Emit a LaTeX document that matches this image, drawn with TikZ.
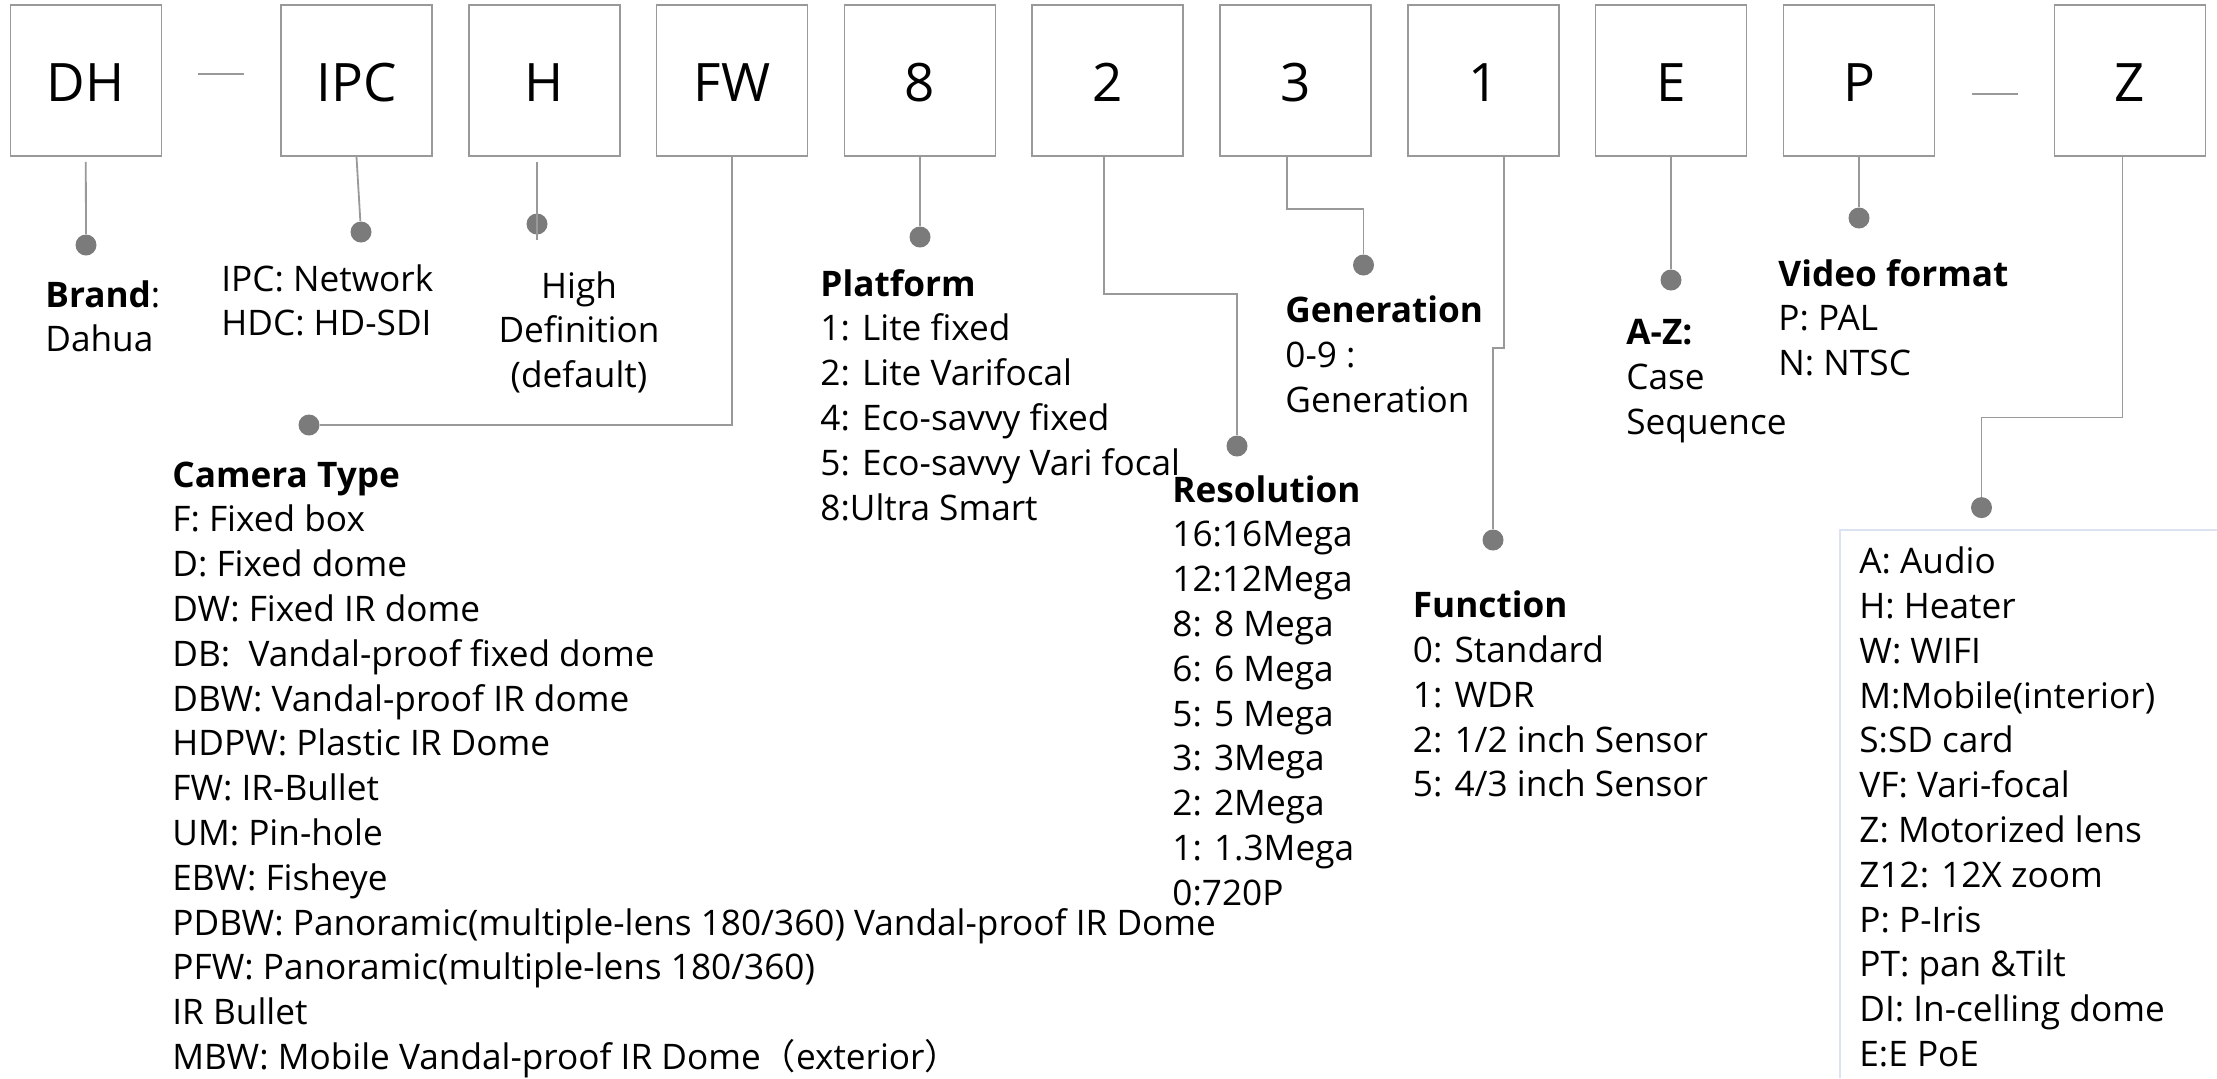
\documentclass[tikz,border=0pt]{standalone}
\usepackage{fontspec}
\setmainfont{Open Sans}
\newfontfamily\cjkfont{Noto Sans CJK SC}
\usetikzlibrary{calc}
\definecolor{linegray}{HTML}{999999}
\definecolor{dotgray}{HTML}{7B7B7B}
\definecolor{listblue}{HTML}{DAE3EF}
\newcommand{\blk}[2][l]{\begin{tabular}[t]{@{}#1@{}}#2\end{tabular}}
\begin{document}
\begin{tikzpicture}[x=0.5pt,y=-0.5pt,
  codebox/.style={draw=linegray,line width=0.8pt,minimum width=75.5pt,minimum height=75.5pt,inner sep=0pt,font=\fontsize{26.5}{30}\selectfont,text height=21.4pt,text depth=0pt},
  pin/.style={circle,fill=dotgray,inner sep=0pt,minimum size=10.5pt},
  conn/.style={draw=linegray,line width=0.9pt},
  info/.style={inner sep=0pt,anchor=base west,font=\fontsize{17.6}{22.4}\selectfont},
  ]
\useasboundingbox (0,0) rectangle (2217,1078);
\fill[white] (0,0) rectangle (2217,1078);

% code boxes
\node[codebox] (dh)  at (85.8,80.5)   {DH};
\node[codebox] (ipc) at (356.5,80.5)  {IPC};
\node[codebox] (h)   at (544.5,80.5)  {H};
\node[codebox] (fw)  at (732,80.5)    {FW};
\node[codebox] (b8)  at (920,80.5)    {8};
\node[codebox] (b2)  at (1107.6,80.5) {2};
\node[codebox] (b3)  at (1295.6,80.5) {3};
\node[codebox] (b1)  at (1483.3,80.5) {1};
\node[codebox] (be)  at (1671,80.5)   {E};
\node[codebox] (bp)  at (1859,80.5)   {P};
\node[codebox] (bz)  at (2130,80.5)   {Z};

% separators
\coordinate (s1a) at (198,74);  \coordinate (s1b) at (244,74);
\coordinate (s2a) at (1972,94); \coordinate (s2b) at (2018,94);
\draw[conn] (s1a) -- (s1b);
\draw[conn] (s2a) -- (s2b);

% pins
\node[pin] (d1)  at (86,245) {};
\node[pin] (d2)  at (361,232) {};
\node[pin] (d3)  at (537,224) {};
\node[pin] (d4)  at (309,425) {};
\node[pin] (d5)  at (920,237) {};
\node[pin] (d6)  at (1237,446) {};
\node[pin] (d7)  at (1363.5,265) {};
\node[pin] (d8)  at (1493,540) {};
\node[pin] (d9)  at (1671,280) {};
\node[pin] (d10) at (1859,218) {};
\node[pin] (d11) at (1981.5,507.6) {};

% bend points
\coordinate (c6)  at (1237,294.3);
\coordinate (c7)  at (1363.5,209);
\coordinate (c8)  at (1493,347.7);
\coordinate (c11) at (1981.5,417.5);

% connectors
\draw[conn] ([yshift=-2.5pt]dh.south) -- (d1);
\draw[conn] (ipc.south) -- (d2);
\draw[conn] ([yshift=-2.5pt]h.south -| d3) -- ([yshift=-8pt]d3.center);
\draw[conn] (fw.south) |- (d4);
\draw[conn] (b8.south) -- (d5);
\draw[conn] ([xshift=-2pt]b2.south) |- (c6) -- (d6);
\draw[conn] ([xshift=-4.15pt]b3.south) |- (c7) -- (d7);
\draw[conn] ([xshift=10.5pt]b1.south) |- (c8) -- (d8);
\draw[conn] (be.south) -- (d9);
\draw[conn] (bp.south) -- (d10);
\draw[conn] ([xshift=-3.8pt]bz.south) |- (c11) -- (d11);

% Z list frame
\coordinate (fa) at (1840,1078);
\coordinate (fb) at (1840,530);
\coordinate (fc) at (2217,530);
\draw[draw=listblue,line width=0.8pt] (fa) -- (fb) -- (fc);

% texts
\node[info] (tbrand) at (45,307) {\blk{\textbf{Brand}:\\Dahua}};
\node[info] (tipc) at (221,291) {\blk{IPC: Network\\HDC: HD-SDI}};
\node[info,anchor=base] (th) at (579,298) {\blk[c]{High\\Definition\\(default)}};
\node[info] (tcam) at (172,487) {\blk{\textbf{Camera Type}\\F: Fixed box\\D: Fixed dome\\DW: Fixed IR dome\\DB:\ \ Vandal-proof fixed dome\\DBW: Vandal-proof IR dome\\HDPW: Plastic IR Dome\\FW: IR-Bullet\\UM: Pin-hole\\EBW: Fisheye\\PDBW: Panoramic(multiple-lens 180/360) Vandal-proof IR Dome\\PFW: Panoramic(multiple-lens 180/360)\\IR Bullet\\MBW: Mobile Vandal-proof IR Dome{\cjkfont （}exterior{\cjkfont ）}}};
\node[info] (tplat) at (820,296) {\blk{\textbf{Platform}\\1: Lite fixed\\2: Lite Varifocal\\4: Eco-savvy fixed\\5: Eco-savvy Vari focal\\8:Ultra Smart}};
\node[info] (tres) at (1172,502) {\blk{\textbf{Resolution}\\16:16Mega\\12:12Mega\\8: 8 Mega\\6: 6 Mega\\5: 5 Mega\\3: 3Mega\\2: 2Mega\\1: 1.3Mega\\0:720P}};
\node[info] (tgen) at (1285,322.7) {\blk{\textbf{Generation}\\0-9 :\\Generation}};
\node[info] (tfun) at (1412.5,617.7) {\blk{\textbf{Function}\\0: Standard\\1: WDR\\2: 1/2 inch Sensor\\5: 4/3 inch Sensor}};
\node[info] (taz) at (1626,344.5) {\blk{\textbf{A-Z:}\\Case\\Sequence}};
\node[info] (tvid) at (1778,286) {\blk{\textbf{Video format}\\P: PAL\\N: NTSC}};
\node[info] (tz) at (1859,573.7) {\blk{A: Audio\\H: Heater\\W: WIFI\\M:Mobile(interior)\\S:SD card\\VF: Vari-focal\\Z: Motorized lens\\Z12: 12X zoom\\P: P-Iris\\PT: pan \&Tilt\\DI: In-celling dome\\E:E PoE}};
\end{tikzpicture}
\end{document}
